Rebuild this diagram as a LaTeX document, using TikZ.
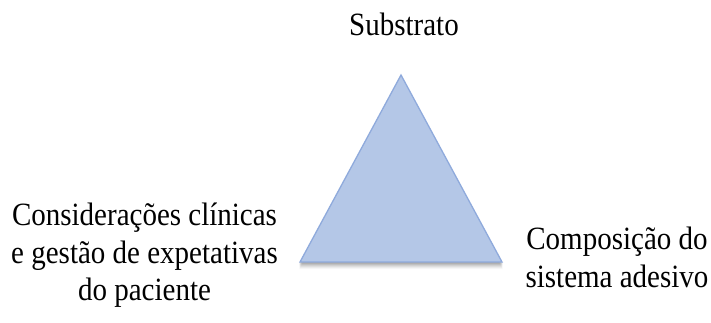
\documentclass[tikz,border=0pt]{standalone}
\usepackage{fontspec}
\setmainfont{Liberation Serif}
\definecolor{trifill}{HTML}{B4C7E7}
\definecolor{triedge}{HTML}{8FAADC}
\tikzset{
  lbl/.style={font=\fontsize{29}{36}\selectfont, anchor=base, inner sep=0pt, text=black, yscale=1.12, transform shape},
  tri/.style={fill=trifill, draw=triedge, line width=1.3pt, line join=miter},
  shade/.style={fill=black, draw=none}
}
\begin{document}
\begin{tikzpicture}[x=1pt,y=-1pt]
\useasboundingbox (0,0) rectangle (711,322);
\fill[white] (0,0) rectangle (711,322);
\coordinate (A) at (401,75);
\coordinate (B) at (300,262);
\coordinate (C) at (502,262);
% soft shadow
\foreach \d/\o in {7/0.03,6/0.04,5/0.05,4/0.06,3/0.07,2/0.08,1/0.08} {
  \fill[shade, fill opacity=\o] ([yshift=-\d]A) -- ([xshift=-0.7,yshift=-\d]B) -- ([xshift=0.7,yshift=-\d]C) -- cycle;
}
\draw[tri] (A) -- (B) -- (C) -- cycle;
\node[lbl] (sub) at (404,35) {Substrato};
\node[lbl] (l1) at (144.5,225) {Considerações clínicas};
\node[lbl] (l2) at (144.5,263) {e gestão de expetativas};
\node[lbl] (l3) at (144.5,300) {do paciente};
\node[lbl] (r1) at (617,249) {Composição do};
\node[lbl] (r2) at (617,287) {sistema adesivo};
\end{tikzpicture}
\end{document}
